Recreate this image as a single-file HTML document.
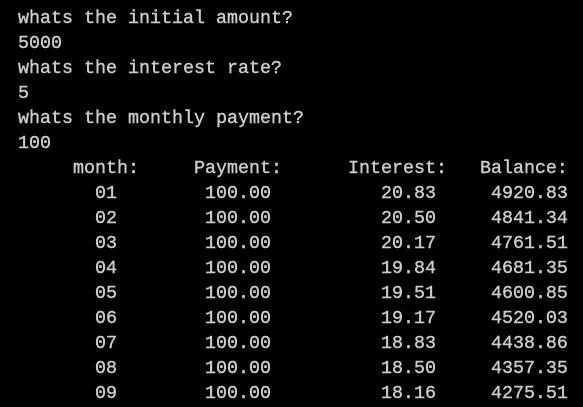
<!DOCTYPE html>
<html><head><meta charset="utf-8"><style>
html,body{margin:0;padding:0;background:#000;}
body{width:583px;height:407px;overflow:hidden;position:relative;}
pre{position:absolute;left:18px;top:6px;margin:0;font-family:"Liberation Mono",monospace;font-size:18.33px;line-height:25px;color:#cccccc;white-space:pre;-webkit-text-stroke:0.4px #cccccc;}
</style></head><body>
<pre>whats the initial amount?
5000
whats the interest rate?
5
whats the monthly payment?
100
     month:     Payment:      Interest:   Balance:
       01        100.00          20.83     4920.83
       02        100.00          20.50     4841.34
       03        100.00          20.17     4761.51
       04        100.00          19.84     4681.35
       05        100.00          19.51     4600.85
       06        100.00          19.17     4520.03
       07        100.00          18.83     4438.86
       08        100.00          18.50     4357.35
       09        100.00          18.16     4275.51</pre>
</body></html>
